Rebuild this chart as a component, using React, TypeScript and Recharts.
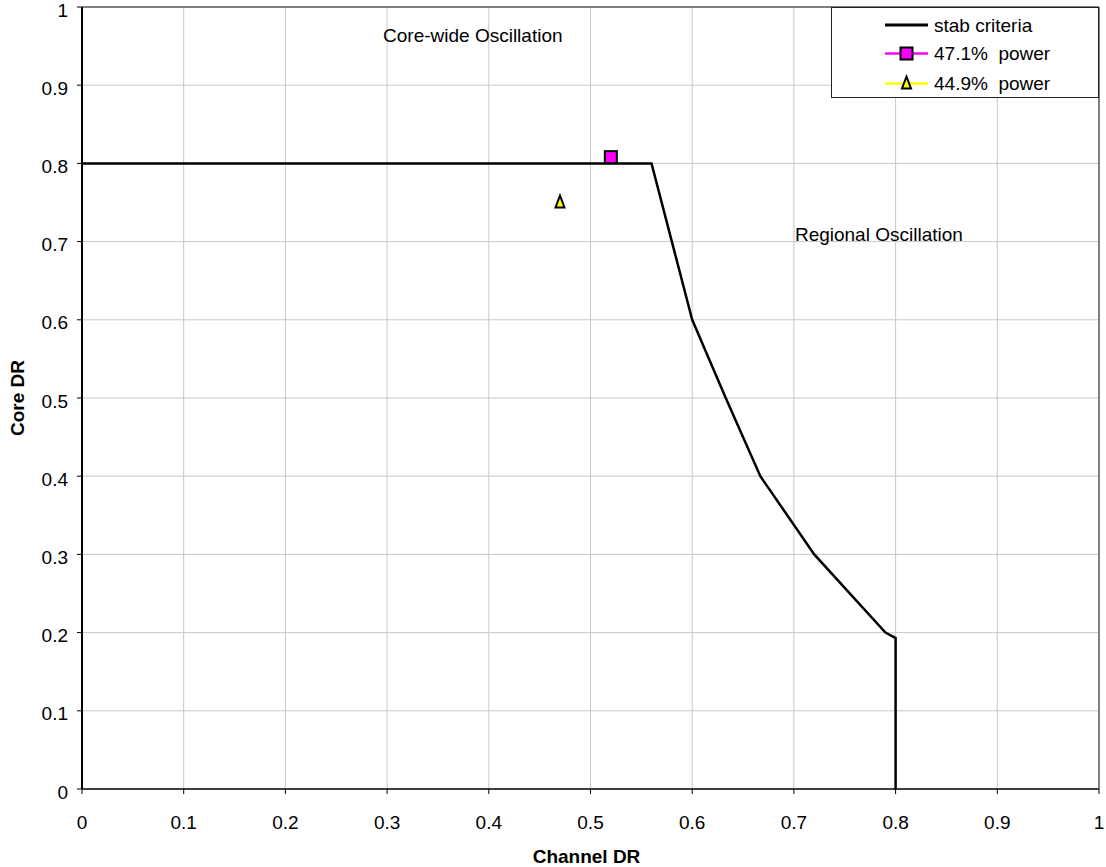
import React from 'react';
import {
  ScatterChart,
  Scatter,
  XAxis,
  YAxis,
  CartesianGrid,
  ReferenceLine,
  ReferenceDot,
  Legend,
} from 'recharts';

// Stability criteria boundary (Channel DR vs Core DR)
const criteriaChannelDR = [0, 0.56, 0.58, 0.6, 0.633, 0.667, 0.72, 0.79, 0.8, 0.8];
const criteriaCoreDR = [0.8, 0.8, 0.7, 0.6, 0.5, 0.4, 0.3, 0.2, 0.193, 0];

// Measured operating points
const power471ChannelDR = [0.52];
const power471CoreDR = [0.808];
const power449ChannelDR = [0.47];
const power449CoreDR = [0.75];

// Axis ticks
const xTicks = [0, 0.1, 0.2, 0.3, 0.4, 0.5, 0.6, 0.7, 0.8, 0.9, 1];
const yTicks = [0, 0.1, 0.2, 0.3, 0.4, 0.5, 0.6, 0.7, 0.8, 0.9, 1];
const xTickLabels = ['0', '0.1', '0.2', '0.3', '0.4', '0.5', '0.6', '0.7', '0.8', '0.9', '1'];
const yTickLabels = ['0', '0.1', '0.2', '0.3', '0.4', '0.5', '0.6', '0.7', '0.8', '0.9', '1'];

// Region annotations
const regionLabels = ['Core-wide Oscillation', 'Regional Oscillation'];
const regionChannelDR = [0.296, 0.701];
const regionCoreDR = [0.964, 0.709];

// Series names
const seriesNames = ['stab criteria', '47.1%  power', '44.9%  power'];

const toPoints = (xs: number[], ys: number[]) => xs.map((x, i) => ({ x, y: ys[i] }));

const criteriaData = toPoints(criteriaChannelDR, criteriaCoreDR);
const power471Data = toPoints(power471ChannelDR, power471CoreDR);
const power449Data = toPoints(power449ChannelDR, power449CoreDR);

const FONT = '"Liberation Sans", Arial, sans-serif';
const FS = 19;

const SquareMarker = (props: any) => {
  const { cx, cy } = props;
  return (
    <rect x={cx - 6} y={cy - 6} width={12} height={12} fill="#ff00ff" stroke="#000" strokeWidth={2} />
  );
};

const TriangleMarker = (props: any) => {
  const { cx, cy } = props;
  return (
    <polygon
      points={`${cx},${cy - 7} ${cx - 4.5},${cy + 5} ${cx + 4.5},${cy + 5}`}
      fill="#ffff00"
      stroke="#000"
      strokeWidth={2}
      strokeLinejoin="miter"
    />
  );
};

const NoMarker = () => <g />;

const XTick = (props: any) => {
  const { x, y, index } = props;
  return (
    <text x={x} y={y} dy="0.71em" textAnchor="middle" fontFamily={FONT} fontSize={FS} fill="#000">
      {xTickLabels[index]}
    </text>
  );
};

const YTick = (props: any) => {
  const { x, y, index } = props;
  return (
    <text x={x} y={y + 3} textAnchor="end" dominantBaseline="central" fontFamily={FONT} fontSize={FS} fill="#000">
      {yTickLabels[index]}
    </text>
  );
};

const XTitle = (props: any) => {
  const vb = props.viewBox;
  return (
    <text
      x={vb.x + vb.width / 2 - 4}
      y={vb.y + 67}
      textAnchor="middle"
      dominantBaseline="central"
      fontFamily={FONT}
      fontSize={FS}
      fontWeight="bold"
      fill="#000"
    >
      Channel DR
    </text>
  );
};

const YTitle = (props: any) => {
  const vb = props.viewBox;
  const cx = 17;
  const cy = vb.y + vb.height / 2;
  return (
    <text
      x={cx}
      y={cy}
      transform={`rotate(-90 ${cx} ${cy})`}
      textAnchor="middle"
      dominantBaseline="central"
      fontFamily={FONT}
      fontSize={FS}
      fontWeight="bold"
      fill="#000"
    >
      Core DR
    </text>
  );
};

const LegendBox = () => {
  const rowY = [18, 46.5, 76.5];
  return (
    <svg width={268} height={91} style={{ display: 'block' }}>
      <rect x={0.5} y={0.5} width={267} height={90} fill="#fff" stroke="#222" strokeWidth={1} />
      {/* stab criteria */}
      <line x1={54} x2={97} y1={rowY[0]} y2={rowY[0]} stroke="#000" strokeWidth={3} />
      {/* 47.1% power */}
      <line x1={54} x2={97} y1={rowY[1]} y2={rowY[1]} stroke="#ff00ff" strokeWidth={2.5} />
      <SquareMarker cx={75.5} cy={rowY[1]} />
      {/* 44.9% power */}
      <line x1={54} x2={97} y1={rowY[2]} y2={rowY[2]} stroke="#ffff00" strokeWidth={2.5} />
      <TriangleMarker cx={75.5} cy={rowY[2]} />
      {seriesNames.map((name, i) => (
        <text
          key={name}
          x={103}
          y={rowY[i]}
          dominantBaseline="central"
          fontFamily={FONT}
          fontSize={FS}
          fill="#000"
          style={{ whiteSpace: 'pre' }}
          xmlSpace="preserve"
        >
          {name}
        </text>
      ))}
    </svg>
  );
};

const RegionText = (label: string) => (props: any) => (
  <text
    x={props.cx}
    y={props.cy}
    dominantBaseline="central"
    fontFamily={FONT}
    fontSize={FS}
    fill="#000"
  >
    {label}
  </text>
);

export default function App() {
  return (
    <div style={{ position: 'absolute', left: 0, top: 0, background: '#fff' }}>
      <ScatterChart
        width={1106}
        height={867}
        margin={{ top: 7, right: 7, bottom: 0, left: 0 }}
      >
        <CartesianGrid stroke="#c8c8c8" strokeWidth={1} />
        <XAxis
          type="number"
          dataKey="x"
          domain={[0, 1]}
          ticks={xTicks}
          interval={0}
          height={78}
          axisLine={{ stroke: '#404040', strokeWidth: 2 }}
          tickLine={{ stroke: '#000', strokeWidth: 1 }}
          tickSize={5}
          tickMargin={22}
          tick={<XTick />}
          label={<XTitle />}
        />
        <YAxis
          type="number"
          dataKey="y"
          domain={[0, 1]}
          ticks={yTicks}
          interval={0}
          width={82}
          axisLine={{ stroke: '#000', strokeWidth: 2 }}
          tickLine={{ stroke: '#000', strokeWidth: 1 }}
          tickSize={5}
          tickMargin={9}
          tick={<YTick />}
          label={<YTitle />}
        />
        <ReferenceLine y={1} stroke="#808080" strokeWidth={2} ifOverflow="visible" />
        <ReferenceLine x={1} stroke="#808080" strokeWidth={2} ifOverflow="visible" />
        {regionLabels.map((label, i) => (
          <ReferenceDot
            key={label}
            x={regionChannelDR[i]}
            y={regionCoreDR[i]}
            r={0}
            shape={RegionText(label)}
            ifOverflow="visible"
          />
        ))}
        <Scatter
          name={seriesNames[0]}
          data={criteriaData}
          line={{ stroke: '#000', strokeWidth: 2.5 }}
          lineJointType="linear"
          shape={NoMarker}
          isAnimationActive={false}
        />
        <Scatter
          name={seriesNames[1]}
          data={power471Data}
          shape={SquareMarker}
          isAnimationActive={false}
        />
        <Scatter
          name={seriesNames[2]}
          data={power449Data}
          shape={TriangleMarker}
          isAnimationActive={false}
        />
        <Legend
          layout="horizontal"
          verticalAlign="middle"
          align="center"
          content={<LegendBox />}
          wrapperStyle={{ position: 'absolute', left: 831, top: 7, width: 268, height: 91 }}
        />
      </ScatterChart>
    </div>
  );
}
